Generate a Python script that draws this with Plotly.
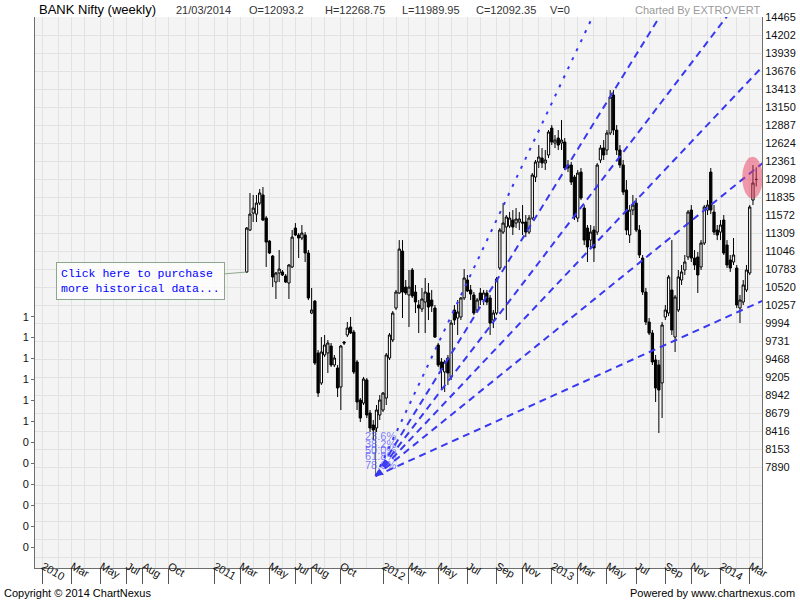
import pandas as pd
import plotly.graph_objects as go

# BANK Nifty weekly bars (one per Friday)
first_week = "2011-03-18"
opens = [
    10740, 11353, 11601, 11586, 11747, 11865, 11528, 11192, 10973, 10593,
    10725, 10740, 10681, 10579, 10813, 11382, 11280, 11236, 11280, 11017,
    10140, 10315, 9556, 9118, 9527, 9556, 9658, 9381, 9337, 9059,
    9716, 9819, 9936, 9862, 9425, 8869, 8825, 9162, 8679, 8504,
    8460, 8650, 8723, 8898, 9483, 9746, 10213, 10433, 11046, 10520,
    10404, 10769, 10447, 10257, 10199, 10301, 10433, 10330, 10213, 9673,
    9425, 9279, 9483, 9206, 10184, 10067, 10082, 10360, 10623, 10477,
    10404, 10184, 10433, 10330, 10433, 10360, 10038, 10140, 10798, 11323,
    11397, 11411, 11499, 11455, 11470, 11470, 11470, 11323, 11528, 12127,
    12347, 12405, 12332, 12449, 12843, 12624, 12697, 12624, 12639, 12303,
    12303, 12127, 11528, 12200, 11674, 11382, 11206, 11353, 11323, 12376,
    12551, 12522, 12770, 13325, 12814, 12522, 12303, 11937, 11280, 11645,
    11747, 11353, 10944, 10447, 10009, 9848, 9454, 9381, 9118, 10082,
    10140, 10477, 9789, 10184, 10623, 10769, 10959, 11645, 10944, 10959,
    10813, 11163, 11645, 12200, 11616, 11353, 11323, 11499, 11134, 10915,
    10886, 10798, 10213, 10301, 10477, 10725, 11791, 12093.2,
]
highs = [
    11397, 11894, 11865, 11865, 11952, 11981, 11557, 11206, 10988, 10740,
    11061, 10769, 10710, 10856, 11353, 11455, 11309, 11426, 11323, 11061,
    10506, 10330, 9600, 9789, 9819, 9746, 9702, 9527, 9381, 9673,
    9731, 10009, 10082, 9892, 9454, 8898, 9206, 9191, 8723, 8577,
    8796, 8942, 8986, 9556, 9848, 10169, 10477, 11206, 11206, 10623,
    10769, 10798, 10550, 10330, 10506, 10652, 10579, 10477, 10257, 9702,
    9483, 9454, 9527, 10038, 10257, 10330, 10374, 10783, 10696, 10550,
    10447, 10360, 10506, 10477, 10477, 10404, 10184, 10667, 11382, 11747,
    11572, 11616, 11645, 11674, 11616, 11718, 11572, 11572, 12186, 12376,
    12595, 12551, 12522, 12814, 12887, 12741, 12814, 12960, 12697, 12376,
    12347, 12157, 12230, 12259, 11718, 11426, 11426, 11411, 12332, 12595,
    12668, 12814, 13398, 13398, 12887, 12595, 12376, 12083, 11718, 11865,
    11820, 11426, 10988, 10506, 10067, 9892, 9527, 9454, 10009, 10257,
    10696, 11206, 10404, 10769, 10842, 10988, 11645, 11718, 11061, 11032,
    11206, 11718, 11791, 12259, 11718, 11426, 11499, 11572, 11206, 10988,
    11236, 10842, 10404, 10623, 10842, 11718, 12303, 12268.75,
]
lows = [
    10725, 11338, 11470, 11470, 11718, 11484, 10813, 11003, 10520, 10345,
    10593, 10681, 10579, 10345, 10798, 11265, 10944, 11206, 10886, 10330,
    10125, 9381, 8913, 9089, 9498, 9264, 9352, 9352, 8913, 8723,
    9673, 9789, 9833, 9249, 8723, 8548, 8796, 8606, 8402, 8285,
    8402, 8577, 8694, 8796, 9454, 9716, 10184, 10418, 10067, 10404,
    9936, 10360, 10140, 9848, 10155, 9848, 10038, 10155, 9775, 9352,
    9015, 8986, 9089, 9162, 9965, 9819, 10038, 10330, 10447, 10330,
    10111, 10155, 10257, 10257, 10257, 9819, 9921, 10111, 10769, 11294,
    10038, 11382, 11280, 11382, 11353, 11280, 11250, 11294, 11499, 12054,
    12259, 12259, 12230, 12405, 12595, 12551, 12522, 12522, 12230, 12200,
    12011, 11499, 11470, 11791, 11134, 10886, 11090, 10886, 11280, 12332,
    12376, 12449, 12741, 12741, 12449, 12259, 11865, 11280, 11163, 11572,
    11323, 10944, 10404, 9965, 9819, 9381, 8840, 8387, 8606, 10038,
    10096, 9819, 9571, 10155, 10550, 10696, 10915, 10886, 10769, 10433,
    10769, 11134, 11572, 11586, 11280, 11206, 11206, 10988, 10798, 10740,
    10842, 10213, 9994, 10257, 10447, 10696, 11718, 11989.95,
]
closes = [
    11382, 11586, 11674, 11747, 11894, 11499, 11177, 11017, 10667, 10725,
    10783, 10696, 10593, 10842, 11250, 11280, 11236, 11309, 11017, 10360,
    10184, 9410, 8971, 9571, 9673, 9702, 9381, 9483, 9045, 9658,
    9702, 9921, 9848, 9279, 8840, 8606, 9176, 8650, 8460, 8431,
    8723, 8869, 8971, 9527, 9819, 10140, 10447, 11075, 10447, 10433,
    10520, 10389, 10301, 10213, 10345, 10447, 10228, 10242, 9789, 9381,
    9308, 9425, 9264, 9994, 10038, 10155, 10360, 10652, 10462, 10418,
    10140, 10330, 10330, 10433, 10301, 9994, 10140, 10638, 11353, 11455,
    11543, 11528, 11397, 11514, 11514, 11455, 11323, 11528, 12157, 12347,
    12420, 12332, 12376, 12785, 12639, 12668, 12595, 12668, 12259, 12259,
    12054, 11543, 12186, 11820, 11206, 11105, 11323, 11090, 12303, 12551,
    12449, 12770, 13296, 12814, 12522, 12303, 11908, 11353, 11645, 11718,
    11353, 10988, 10447, 10009, 9848, 9425, 9045, 9015, 9965, 10184,
    10667, 9892, 10374, 10667, 10740, 10886, 11616, 10944, 10842, 10696,
    11163, 11689, 11718, 11645, 11323, 11280, 11426, 11017, 10842, 10798,
    10988, 10257, 10330, 10550, 10769, 11689, 12040, 12092.35,
]
volume_last = 0

# right axis price labels
price_ticks = [
    14465, 14202, 13939, 13676, 13413, 13150, 12887, 12624, 12361, 12098,
    11835, 11572, 11309, 11046, 10783, 10520, 10257, 9994, 9731, 9468,
    9205, 8942, 8679, 8416, 8153, 7890,
]

# bottom axis labels (first weekly bar of the month)
month_tick_dates = [
    "2010-01-01", "2010-03-05", "2010-05-07", "2010-07-02", "2010-08-06", "2010-10-01",
    "2011-01-07", "2011-03-04", "2011-05-06", "2011-07-01", "2011-08-05", "2011-10-07",
    "2012-01-06", "2012-03-02", "2012-05-04", "2012-07-06", "2012-09-07", "2012-11-02",
    "2013-01-04", "2013-03-01", "2013-05-03", "2013-07-05", "2013-09-06", "2013-11-01",
    "2014-01-03", "2014-03-07",
]
month_tick_labels = [
    "2010", "Mar", "May", "Jul", "Aug", "Oct",
    "2011", "Mar", "May", "Jul", "Aug", "Oct",
    "2012", "Mar", "May", "Jul", "Sep", "Nov",
    "2013", "Mar", "May", "Jul", "Sep", "Nov",
    "2014", "Mar",
]

# left axis (truncated labels on the original)
left_ticks = [11, 10, 9, 8, 7, 6, 5, 4, 3, 2, 1, 0]
left_labels = ["1", "1", "1", "1", "1", "1", "0", "0", "0", "0", "0", "0"]

# Fibonacci fan drawn on the chart
fan_start_date, fan_start_price = "2011-12-21", 7758
fan_end_date, fan_end_price = "2012-02-12", 8518
fan_ratios = [0.0, 0.236, 0.382, 0.5, 0.618, 0.786]
fan_labels = ["", "23.6%", "38.2%", "50.0%", "61.8%", "78.6%"]
fan_label_date = "2011-12-31"

BG = "#f4f4f4"
GRID = "#e2e2e2"
AXIS = "#6e6e6e"
FAN_BLUE = "#3838f2"
FONT = "Liberation Sans, Arial, sans-serif"

dates = pd.date_range(first_week, periods=len(opens), freq="7D")
grid_dates = pd.date_range("2009-12-01", "2014-04-30", freq="WOM-1FRI")

fig = go.Figure()

fig.add_trace(go.Candlestick(
    x=dates, open=opens, high=highs, low=lows, close=closes,
    increasing=dict(line=dict(color="black", width=1), fillcolor="white"),
    decreasing=dict(line=dict(color="black", width=1), fillcolor="black"),
    whiskerwidth=0,
    showlegend=False,
    hoverinfo="skip",
))

# fan lines, extended past the right edge (clipped by the plot area)
t0 = pd.Timestamp(fan_start_date)
t1 = pd.Timestamp(fan_end_date)
t_far = pd.Timestamp("2014-06-30")
stretch = (t_far - t0) / (t1 - t0)

# vertical height line of the fan at its origin
fig.add_trace(go.Scatter(
    x=[t0, t0], y=[fan_start_price, fan_end_price - 60],
    mode="lines", line=dict(color="rgba(60,60,60,0.8)", width=1),
    hoverinfo="skip", showlegend=False,
))

for r in fan_ratios:
    level = fan_end_price - r * (fan_end_price - fan_start_price)
    far_price = fan_start_price + (level - fan_start_price) * stretch
    fig.add_trace(go.Scatter(
        x=[t0, t_far], y=[fan_start_price, far_price],
        mode="lines",
        line=dict(color=FAN_BLUE, width=2, dash="3px,7px" if r == 0 else "7px,5px"),
        hoverinfo="skip", showlegend=False,
    ))

# dummy trace so the left axis is drawn
fig.add_trace(go.Scatter(
    x=[dates[0]], y=[0], yaxis="y2", mode="markers",
    marker=dict(opacity=0), hoverinfo="skip", showlegend=False,
))

annotations = []

for r, lab in zip(fan_ratios, fan_labels):
    if not lab:
        continue
    annotations.append(dict(
        x=fan_label_date, y=fan_end_price - r * (fan_end_price - fan_start_price),
        text=lab, showarrow=False, xanchor="center", yanchor="middle",
        font=dict(family=FONT, size=11, color="rgba(70,70,255,0.7)"),
    ))

# arrow head at the fan origin
annotations.append(dict(
    x=fan_start_date, y=fan_start_price, text="", showarrow=True,
    ax=7, ay=-5, arrowhead=2, arrowsize=1, arrowwidth=1.5,
    arrowcolor=FAN_BLUE, standoff=0,
))

# call-out box
annotations.append(dict(
    x=dates[0], y=opens[0],
    text="Click here to purchase<br>more historical data...",
    showarrow=True, ax=-106, ay=9, arrowhead=0, arrowwidth=1,
    arrowcolor="#8ea68e", standoff=0,
    align="left", bgcolor="rgba(255,255,255,0.75)",
    bordercolor="#8ea68e", borderwidth=1, borderpad=4,
    font=dict(family="Liberation Mono, Courier New, monospace", size=11.5, color="#0000ff"),
))


def px_x(px):
    return (px - 35) / 727


def px_y(py):
    return (568 - py) / 551


header = [
    ("BANK Nifty (weekly)", 37, 13, "#000000"),
    (dates[-1].strftime("%d/%m/%Y"), 174, 11, "#333333"),
    (f"O={opens[-1]}", 247, 11, "#333333"),
    (f"H={highs[-1]}", 323, 11, "#333333"),
    (f"L={lows[-1]}", 400, 11, "#333333"),
    (f"C={closes[-1]}", 474, 11, "#333333"),
    (f"V={volume_last}", 548, 11, "#333333"),
]
for txt, xpos, size, col in header:
    annotations.append(dict(
        xref="paper", yref="paper", x=px_x(xpos), y=px_y(9.5),
        xanchor="left", yanchor="middle", text=txt, showarrow=False,
        font=dict(family=FONT, size=size, color=col),
    ))
annotations.append(dict(
    xref="paper", yref="paper", x=px_x(762), y=px_y(9.5),
    xanchor="right", yanchor="middle", text="Charted By EXTROVERT", showarrow=False,
    font=dict(family=FONT, size=11, color="#9a9a9a"),
))
annotations.append(dict(
    xref="paper", yref="paper", x=px_x(2), y=px_y(593),
    xanchor="left", yanchor="middle", text="Copyright © 2014 ChartNexus", showarrow=False,
    font=dict(family=FONT, size=11, color="#000000"),
))
annotations.append(dict(
    xref="paper", yref="paper", x=px_x(797), y=px_y(593),
    xanchor="right", yanchor="middle", text="Powered by www.chartnexus.com", showarrow=False,
    font=dict(family=FONT, size=11, color="#000000"),
))

# pink highlight round the latest bars
shapes = [dict(
    type="circle", xref="x", yref="y", layer="above",
    x0=dates[-1] - pd.Timedelta(days=30), x1=dates[-1] + pd.Timedelta(days=14),
    y0=closes[-1] - 280, y1=closes[-1] + 330,
    fillcolor="rgba(232,60,95,0.5)", line=dict(width=0),
)]

fig.update_layout(
    width=800, height=600, autosize=False,
    margin=dict(l=35, r=38, t=17, b=32, autoexpand=False),
    paper_bgcolor="white", plot_bgcolor=BG,
    font=dict(family=FONT, size=11, color="#111"),
    showlegend=False,
    boxgap=0.0,
    xaxis=dict(
        type="date", automargin=False,
        range=["2009-12-16 07:00", "2014-04-02 12:00"],
        tickvals=month_tick_dates, ticktext=month_tick_labels,
        ticks="outside", ticklen=15, tickcolor="#555", tickwidth=1,
        ticklabelposition="outside right", ticklabelstandoff=-13,
        tickfont=dict(family=FONT, size=11, color="#111"),
        showgrid=True, gridcolor=GRID, gridwidth=1,
        minor=dict(tickvals=list(grid_dates), showgrid=True, gridcolor=GRID, ticks=""),
        showline=True, linecolor=AXIS, linewidth=1,
        zeroline=False,
        rangeslider=dict(visible=False),
    ),
    yaxis=dict(
        side="right", automargin=False,
        range=[6414.3, 14466],
        tickvals=price_ticks, ticktext=[str(v) for v in price_ticks],
        ticks="", tickfont=dict(family=FONT, size=11, color="#111"),
        showgrid=True, gridcolor=GRID, gridwidth=1,
        minor=dict(tick0=7890, dtick=263, showgrid=True, gridcolor=GRID, ticks=""),
        showline=True, linecolor=AXIS, linewidth=1,
        zeroline=False,
    ),
    yaxis2=dict(
        overlaying="y", side="left", automargin=False,
        range=[-1.0, 25.31],
        tickvals=left_ticks, ticktext=left_labels,
        ticks="outside", ticklen=3, tickcolor=AXIS,
        tickfont=dict(family=FONT, size=11, color="#111"),
        showgrid=False, zeroline=False,
        showline=True, linecolor=AXIS, linewidth=1,
    ),
    annotations=annotations,
    shapes=shapes,
)

# the page's default body margin would shift the 800x600 figure
fig.write_html(
    "out.html",
    config={"displayModeBar": False},
    post_script="document.body.style.margin = '0';",
)
